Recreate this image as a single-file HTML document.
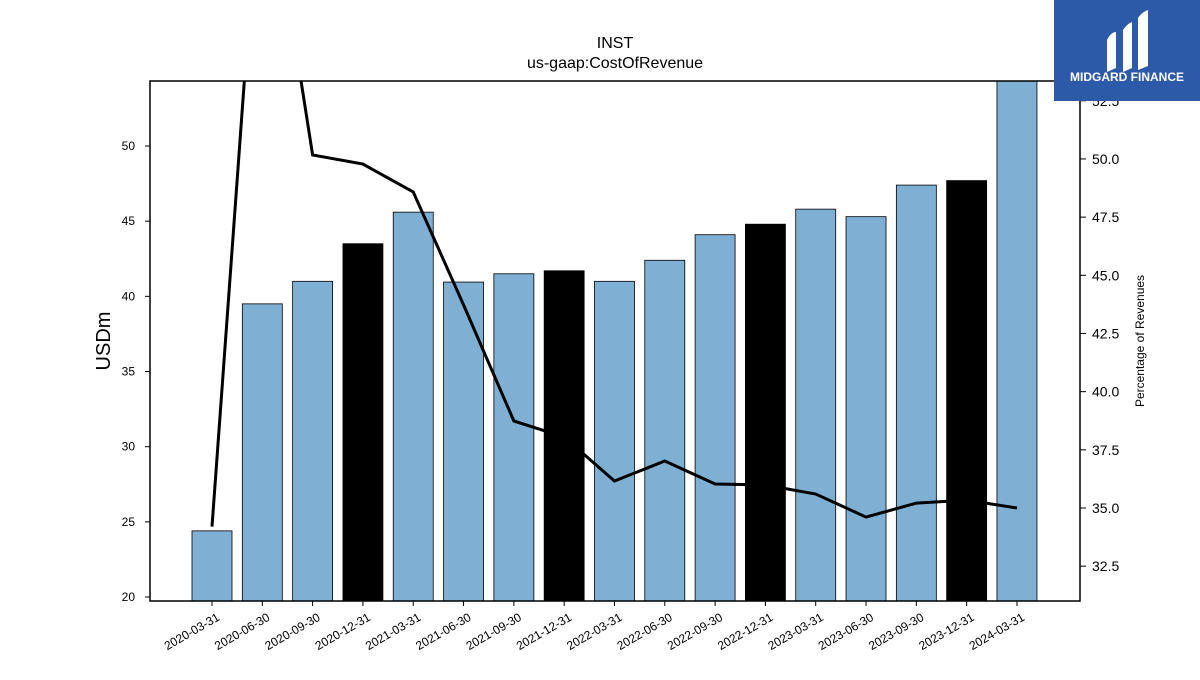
<!DOCTYPE html>
<html><head><meta charset="utf-8"><style>
body{margin:0;background:#fff;font-family:"Liberation Sans",sans-serif}
</style></head><body>
<svg id="chart" width="1200" height="675" xmlns="http://www.w3.org/2000/svg">
<text x="615" y="48" font-size="16" text-anchor="middle">INST</text>
<text x="615" y="68" font-size="16" text-anchor="middle">us-gaap:CostOfRevenue</text>
<defs><clipPath id="clip"><rect x="150" y="81" width="930" height="520"/></clipPath></defs>
<g id="bars" clip-path="url(#clip)"></g>
<g id="line" clip-path="url(#clip)"></g>
<rect x="150" y="81" width="930" height="520" fill="none" stroke="#000" stroke-width="1.5"/>
<g id="axes"></g>
<text transform="translate(110,341) rotate(-90)" font-size="20" text-anchor="middle">USDm</text>
<text transform="translate(1144,341) rotate(-90)" font-size="12" text-anchor="middle">Percentage of Revenues</text>
<g>
<rect x="1054" y="0" width="146" height="101" fill="#2c5aa8"/>
<path d="M1107 40 q4-8 9-8 v36 l-9 4z M1123 30 q4-6 9-8 v46 l-9 4z M1138 18 q4-6 10-8 v56 l-10 4z" fill="#fff"/>
<text x="1127" y="81" font-size="12" font-weight="bold" fill="#fff" text-anchor="middle">MIDGARD FINANCE</text>
</g>
</svg>
<script>
const categories=["2020-03-31","2020-06-30","2020-09-30","2020-12-31","2021-03-31","2021-06-30","2021-09-30","2021-12-31","2022-03-31","2022-06-30","2022-09-30","2022-12-31","2023-03-31","2023-06-30","2023-09-30","2023-12-31","2024-03-31"];
const costValues=[24.4,39.5,41.0,43.5,45.6,40.95,41.5,41.7,41.0,42.4,44.1,44.8,45.8,45.3,47.4,47.7,56];
const pctValues=[34.2,64.0,50.17,49.78,48.58,43.73,38.74,38.05,36.16,37.02,36.03,35.99,35.6,34.61,35.21,35.34,35.0];
const yTicks=[20,25,30,35,40,45,50];
const y2Ticks=[32.5,35.0,37.5,40.0,42.5,45.0,47.5,50.0,52.5];
const NS="http://www.w3.org/2000/svg";
const x=i=>212+i*50.31;
const y=v=>597-(v-20)*15.033;
const y2=v=>508-(v-35)*23.27;
function mk(tag,attrs,parent){const e=document.createElementNS(NS,tag);for(const k in attrs)e.setAttribute(k,attrs[k]);document.getElementById(parent).appendChild(e);return e;}
categories.forEach((c,i)=>{
 const dark=(c.endsWith("12-31"));
 const b=mk("rect",{x:x(i)-20,y:y(costValues[i]),width:40,height:601-y(costValues[i]),fill:dark?"#000":"#7fafd3",stroke:"#000","stroke-width":0.8},"bars");
 
 
 const t=mk("line",{x1:x(i),x2:x(i),y1:601,y2:606,stroke:"#000"},"axes");
 
 
 const l=mk("text",{transform:`translate(${x(i)+4},${612}) rotate(-30)`,"font-size":12,"text-anchor":"end","dominant-baseline":"hanging"},"axes");
 l.textContent=c;
 
 
});
const p=mk("polyline",{points:pctValues.map((v,i)=>x(i)+","+y2(v)).join(" "),fill:"none",stroke:"#000","stroke-width":3},"line");


yTicks.forEach(v=>{
 const t=mk("line",{x1:145,x2:150,y1:y(v),y2:y(v),stroke:"#000"},"axes");
 
 
 const l=mk("text",{x:135,y:y(v)+4,"font-size":12,"text-anchor":"end"},"axes");
 l.textContent=v;
 
 
});
y2Ticks.forEach(v=>{
 const t=mk("line",{x1:1080,x2:1086,y1:y2(v),y2:y2(v),stroke:"#000"},"axes");
 
 
 const l=mk("text",{x:1092,y:y2(v)+5,"font-size":14},"axes");
 l.textContent=v.toFixed(1);
 
 
});
</script>
</body></html>
